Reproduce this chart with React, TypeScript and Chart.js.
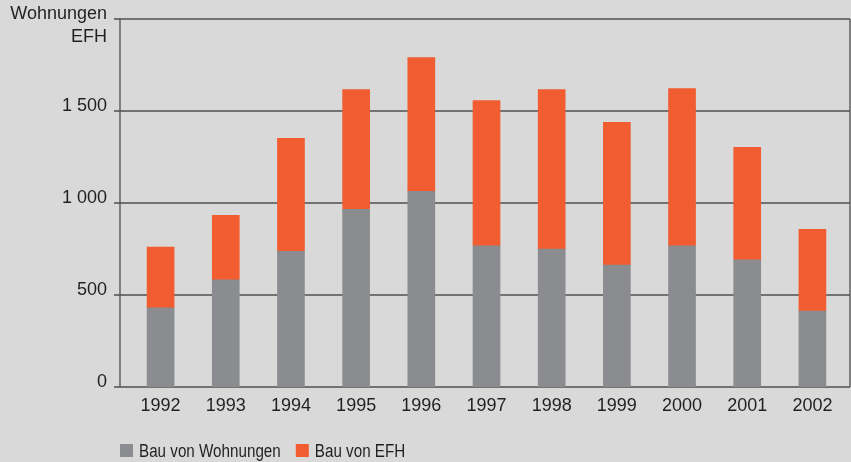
import React, { useEffect, useRef } from 'react';
import { Chart, registerables } from 'chart.js';

Chart.register(...registerables);

// Fertiggestellte Wohnungen und Einfamilienhäuser, 1992–2002
const years = ['1992', '1993', '1994', '1995', '1996', '1997', '1998', '1999', '2000', '2001', '2002'];
const wohnungen = [430, 582, 738, 966, 1063, 767, 749, 662, 767, 691, 412];
const efh = [330, 351, 613, 651, 727, 790, 868, 776, 855, 611, 445];

const yTicks = [0, 500, 1000, 1500, 2000];
const yTickLabels = ['0', '500', '1 000', '1 500', ''];
const yAxisTitle = ['Wohnungen', 'EFH'];

const seriesNames = ['Bau von Wohnungen', 'Bau von EFH'];
const seriesColors = ['#8b8c90', '#f15c30'];

const BG = '#d9d9d9';
const TEXT = '#231f20';
const LINE = '#505050';
const FONT = "'Liberation Sans', Arial, sans-serif";
// legend text is set in a narrow cut of the same face
const LEGEND_SQUEEZE = 0.845;

// Frame, grid lines, axis title and the legend row under the plot
const framePlugin = {
  id: 'frame',
  beforeDatasetsDraw(chart: any) {
    const { ctx, chartArea: a, scales } = chart;
    const axisX = a.left - 8;
    const rightX = a.right + 5;
    ctx.save();
    ctx.strokeStyle = LINE;
    ctx.lineWidth = 1.3;
    ctx.beginPath();
    for (const v of yTicks) {
      const py = scales.y.getPixelForValue(v);
      ctx.moveTo(axisX - 6, py);
      ctx.lineTo(rightX, py);
    }
    ctx.moveTo(axisX, a.top);
    ctx.lineTo(axisX, a.bottom);
    ctx.moveTo(rightX, a.top);
    ctx.lineTo(rightX, a.bottom);
    ctx.stroke();

    ctx.fillStyle = TEXT;
    ctx.font = `18px ${FONT}`;
    ctx.textAlign = 'right';
    ctx.textBaseline = 'alphabetic';
    ctx.fillText(yAxisTitle[0], a.left - 21, a.top);
    ctx.fillText(yAxisTitle[1], a.left - 21, a.top + 23);
    ctx.restore();
  },
  afterDraw(chart: any) {
    const { ctx, chartArea: a } = chart;
    ctx.save();
    ctx.font = `18px ${FONT}`;
    ctx.textAlign = 'left';
    ctx.textBaseline = 'alphabetic';
    let x = a.left - 8;
    const boxTop = a.bottom + 57;
    chart.data.datasets.forEach((ds: any) => {
      ctx.fillStyle = ds.backgroundColor;
      ctx.fillRect(x, boxTop, 13, 13);
      ctx.fillStyle = TEXT;
      const tx = x + 19;
      ctx.save();
      ctx.translate(tx, a.bottom + 70);
      ctx.scale(LEGEND_SQUEEZE, 1);
      ctx.fillText(ds.label, 0, 0);
      ctx.restore();
      x = tx + ctx.measureText(ds.label).width * LEGEND_SQUEEZE + 15;
    });
    ctx.restore();
  },
};

export default function App() {
  const canvasRef = useRef<HTMLCanvasElement | null>(null);

  useEffect(() => {
    document.body.style.margin = '0';
    document.body.style.background = BG;
    const canvas = canvasRef.current;
    if (!canvas) return;

    const chart = new Chart(canvas, {
      type: 'bar',
      data: {
        labels: years,
        datasets: [
          { label: seriesNames[0], data: wohnungen, backgroundColor: seriesColors[0], barThickness: 27 },
          { label: seriesNames[1], data: efh, backgroundColor: seriesColors[1], barThickness: 27 },
        ],
      },
      options: {
        animation: false,
        responsive: false,
        devicePixelRatio: 1,
        layout: { padding: { top: 19, right: 6, left: 0, bottom: 47 } },
        plugins: {
          legend: { display: false },
          tooltip: { enabled: false },
        },
        scales: {
          x: {
            stacked: true,
            offset: true,
            grid: { display: false, drawTicks: false },
            border: { display: false },
            ticks: {
              color: TEXT,
              font: { family: FONT, size: 18 },
              padding: 8,
              maxRotation: 0,
              autoSkip: false,
            },
            afterFit(axis: any) {
              axis.height = 28;
            },
          },
          y: {
            stacked: true,
            min: 0,
            max: 2000,
            grid: { display: false, drawTicks: false },
            border: { display: false },
            afterBuildTicks(axis: any) {
              axis.ticks = yTicks.map((v) => ({ value: v }));
            },
            ticks: {
              color: TEXT,
              font: { family: FONT, size: 18 },
              padding: 21,
              labelOffset: -5,
              callback: (value: any) => {
                const i = yTicks.indexOf(Number(value));
                return i >= 0 ? yTickLabels[i] : '';
              },
            },
            afterFit(axis: any) {
              axis.width = 128;
              axis.paddingTop = 0;
              axis.paddingBottom = 0;
            },
          },
        },
      },
      plugins: [framePlugin],
    });

    return () => chart.destroy();
  }, []);

  return (
    <div style={{ width: 851, height: 462, background: BG }}>
      <canvas ref={canvasRef} width={851} height={462} style={{ display: 'block' }} />
    </div>
  );
}
